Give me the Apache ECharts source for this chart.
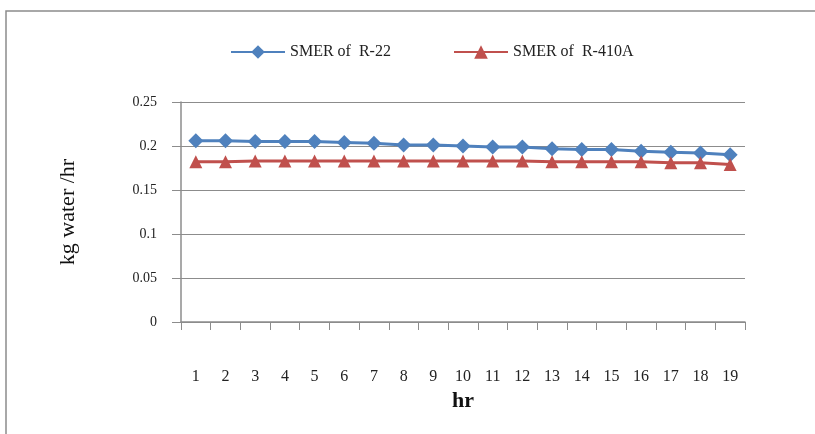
<!DOCTYPE html>
<html>
<head>
<meta charset="utf-8">
<script src="https://cdn.jsdelivr.net/npm/echarts@6/dist/echarts.min.js"></script>
<style>
  html, body { margin: 0; padding: 0; background: #fff; }
  #chart { width: 815px; height: 434px; }
</style>
</head>
<body>
<div id="chart"></div>
<script>
// hours on the x axis
const hours = ['1', '2', '3', '4', '5', '6', '7', '8', '9', '10',
  '11', '12', '13', '14', '15', '16', '17', '18', '19']

const smerR22 = [0.206, 0.206, 0.205, 0.205, 0.205, 0.204, 0.203, 0.201, 0.201, 0.200,
  0.199, 0.199, 0.197, 0.196, 0.196, 0.194, 0.193, 0.192, 0.190]
const smerR410A = [0.182, 0.182, 0.183, 0.183, 0.183, 0.183, 0.183, 0.183, 0.183, 0.183,
  0.183, 0.183, 0.182, 0.182, 0.182, 0.182, 0.181, 0.181, 0.179]

const serif = '"Liberation Serif", "DejaVu Serif", serif'
const gray = '#8c8c8c'

const chart = echarts.init(document.getElementById('chart'))

chart.setOption({
  animation: false,
  textStyle: { fontFamily: serif },
  graphic: [{
    type: 'rect',
    shape: { x: 6, y: 11, width: 840, height: 460 },
    style: { fill: 'none', stroke: gray, lineWidth: 1.5 },
    silent: true
  }],
  legend: [{
    left: 225,
    top: 39,
    itemWidth: 54,
    itemHeight: 17,
    itemGap: 6,
    data: ['SMER of  R-22'],
    textStyle: { fontSize: 16, color: '#222', fontFamily: serif }
  }, {
    left: 448,
    top: 39,
    itemWidth: 54,
    itemHeight: 17,
    data: ['SMER of  R-410A'],
    textStyle: { fontSize: 16, color: '#222', fontFamily: serif }
  }],
  grid: {
    left: 181,
    right: 70,
    top: 102,
    bottom: 112,
    containLabel: false
  },
  xAxis: {
    type: 'category',
    data: hours,
    boundaryGap: true,
    name: 'hr',
    nameLocation: 'middle',
    nameGap: 66,
    nameTextStyle: { fontSize: 22, fontWeight: 'bold', color: '#111', fontFamily: serif },
    axisLine: { lineStyle: { color: gray, width: 1.5 } },
    axisTick: { show: true, length: 8, lineStyle: { color: gray } },
    axisLabel: { margin: 47, fontSize: 16, color: '#222', fontFamily: serif, interval: 0 },
    splitLine: { show: false }
  },
  yAxis: {
    type: 'value',
    min: 0,
    max: 0.25,
    interval: 0.05,
    name: 'kg water /hr',
    nameLocation: 'middle',
    nameGap: 102,
    nameRotate: 90,
    nameTextStyle: { fontSize: 22, color: '#111', fontFamily: serif },
    axisLine: { show: true, lineStyle: { color: gray, width: 1.5 } },
    axisTick: { show: true, length: 9, lineStyle: { color: gray } },
    axisLabel: { margin: 24, fontSize: 14, color: '#222', fontFamily: serif },
    splitLine: { lineStyle: { color: gray, width: 1.2 } }
  },
  series: [{
    name: 'SMER of  R-22',
    type: 'line',
    data: smerR22,
    symbol: 'diamond',
    symbolSize: 15,
    color: '#4F81BD',
    lineStyle: { width: 3 },
    itemStyle: { color: '#4F81BD' }
  }, {
    name: 'SMER of  R-410A',
    type: 'line',
    data: smerR410A,
    symbol: 'triangle',
    symbolSize: 13,
    color: '#C0504D',
    lineStyle: { width: 3 },
    itemStyle: { color: '#C0504D' }
  }]
})
</script>
</body>
</html>
